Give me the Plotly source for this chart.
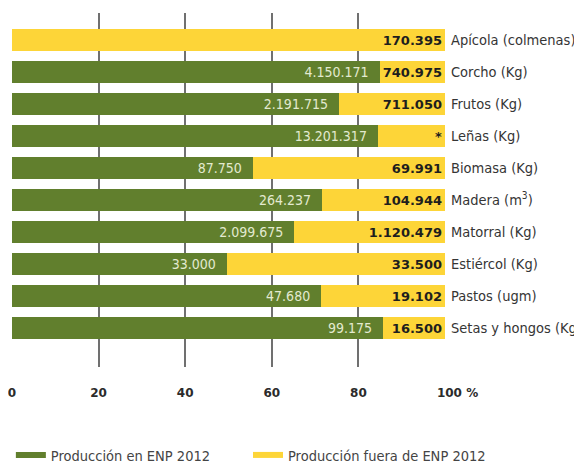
import plotly.graph_objects as go

categories = ["Apícola (colmenas)", "Corcho (Kg)", "Frutos (Kg)", "Leñas (Kg)",
              "Biomasa (Kg)", "Madera (m<sup>3</sup>)", "Matorral (Kg)",
              "Estiércol (Kg)", "Pastos (ugm)", "Setas y hongos (Kg)"]
enp_labels = ["", "4.150.171", "2.191.715", "13.201.317", "87.750", "264.237",
              "2.099.675", "33.000", "47.680", "99.175"]
fuera_labels = ["170.395", "740.975", "711.050", "*", "69.991", "104.944",
                "1.120.479", "33.500", "19.102", "16.500"]
enp_pct = [0, 84.9, 75.5, 84.5, 55.6, 71.6, 65.2, 49.6, 71.4, 85.7]
fuera_pct = [100 - p for p in enp_pct]
tick_vals = [0, 20, 40, 60, 80, 100]
tick_text = ["0", "20", "40", "60", "80", "\u00a0" * 6 + "100 %"]
series_names = ["Producción en ENP 2012", "Producción fuera de ENP 2012"]

GREEN = "#617f2d"
YELLOW = "#fdd538"
FONT = "DejaVu Sans"
COND = "DejaVu Sans Condensed"

W, H = 574, 455  # page body has an 8px margin

fig = go.Figure()
fig.add_trace(go.Bar(
    y=categories, x=enp_pct, orientation="h", marker=dict(color=GREEN, line_width=0),
    text=[t + "\u00a0\u00a0" if t else "" for t in enp_labels],
    textposition="inside", insidetextanchor="end",
    textfont=dict(family=COND, size=14, color="#e3ead0"),
    width=0.7, showlegend=False, hoverinfo="skip",
))
fig.add_trace(go.Bar(
    y=categories, x=fuera_pct, orientation="h", marker=dict(color=YELLOW, line_width=0),
    text=fuera_labels, textposition="inside", insidetextanchor="end",
    textfont=dict(family=FONT, size=13, color="#1e1e1e", weight="bold"),
    width=0.7, showlegend=False, hoverinfo="skip",
))
for name, col, lg in zip(series_names, [GREEN, YELLOW], ["legend", "legend2"]):
    fig.add_trace(go.Scatter(x=[None], y=[None], mode="lines", name=name,
                             line=dict(color=col, width=6), legend=lg))

legend_common = dict(orientation="h", xref="container", yref="container",
                     xanchor="left", yanchor="middle", y=(H - 447) / H,
                     font=dict(family=COND, size=14.5, color="#444444"),
                     itemwidth=30)

fig.update_layout(
    width=W, height=H, barmode="stack",
    margin=dict(l=4, r=W - 437.5, t=4.7, b=H - 358.7, autoexpand=False),
    plot_bgcolor="white", paper_bgcolor="white",
    uniformtext=dict(mode=False),
    xaxis=dict(range=[0, 100], tickvals=tick_vals, ticktext=tick_text,
               showgrid=False, zeroline=False, showline=False, automargin=False,
               ticklabeloverflow="allow",
               tickfont=dict(family=FONT, size=12, color="#2b2b2b", weight="bold"),
               ticks="", ticklabelstandoff=17,
               minor=dict(tickvals=[20, 40, 60, 80], showgrid=True,
                          gridcolor="#707070", gridwidth=1.7, ticks="")),
    yaxis=dict(range=[10.21, -0.843], side="right", showgrid=False, zeroline=False,
               showline=False, ticks="", ticklabelstandoff=5, automargin=False,
               ticklabeloverflow="allow",
               tickfont=dict(family=COND, size=14.5, color="#353535")),
    legend=dict(x=0.005, **legend_common),
    legend2=dict(x=240 / W, **legend_common),
)
fig.write_html("out.html")
